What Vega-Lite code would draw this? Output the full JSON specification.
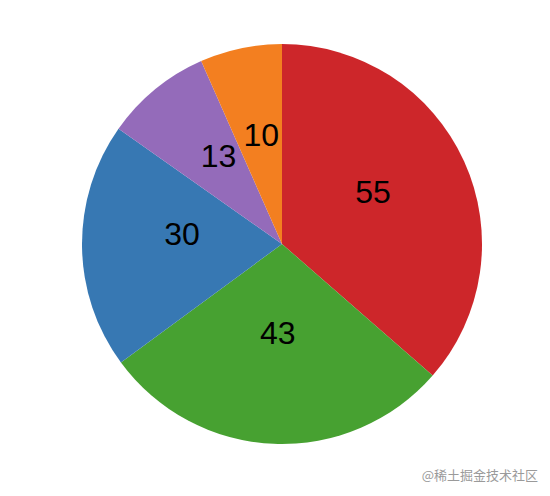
{
  "$schema": "https://vega.github.io/schema/vega-lite/v6.json",
  "width": 400,
  "height": 400,
  "autosize": {"type": "none"},
  "padding": {"left": 82, "top": 44, "right": 68, "bottom": 52},
  "background": "white",
  "title": {
    "text": "@稀土掘金技术社区",
    "orient": "bottom",
    "anchor": "end",
    "offset": 26,
    "dx": 56,
    "fontSize": 13,
    "fontWeight": "normal",
    "font": "Noto Sans CJK SC",
    "color": "#9a9a9a"
  },
  "data": {
    "values": [
      {"k": 1, "name": "a", "value": 55},
      {"k": 2, "name": "b", "value": 43},
      {"k": 3, "name": "c", "value": 30},
      {"k": 4, "name": "d", "value": 13},
      {"k": 5, "name": "e", "value": 10}
    ]
  },
  "encoding": {
    "theta": {"field": "value", "type": "quantitative", "stack": true},
    "order": {"field": "k", "type": "quantitative"}
  },
  "layer": [
    {
      "mark": {"type": "arc", "outerRadius": 200},
      "encoding": {
        "color": {
          "field": "name",
          "type": "nominal",
          "legend": null,
          "scale": {
            "domain": ["a", "b", "c", "d", "e"],
            "range": ["#cd262a", "#47a131", "#3778b3", "#946bba", "#f37f20"]
          }
        }
      }
    },
    {
      "mark": {
        "type": "text",
        "radius": 100,
        "fontSize": 32,
        "font": "Liberation Sans",
        "baseline": "alphabetic",
        "align": "center",
        "color": "black"
      },
      "encoding": {
        "text": {"field": "value", "type": "quantitative"}
      }
    }
  ],
  "config": {"view": {"stroke": null}}
}
